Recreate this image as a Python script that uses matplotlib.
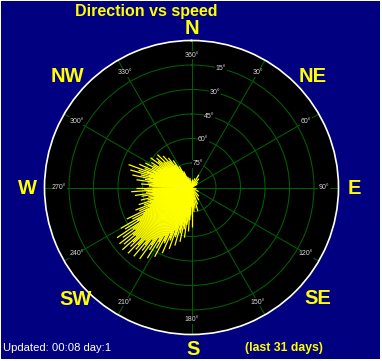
import numpy as np
import matplotlib
matplotlib.use("Agg")
import matplotlib.pyplot as plt
from matplotlib.patches import Rectangle

# wind direction (degrees from north) and speed for each reading
directions = [
    0, 10, 20, 30, 40, 50, 60, 90, 120, 140, 150, 160, 165,
    170, 172, 174, 176, 178, 180, 181, 182, 183, 184, 185, 186, 187, 188, 189,
    190, 191, 192, 193, 194, 195, 196, 197, 198, 199,
    200, 201, 202, 203, 204, 205, 206, 207, 208, 209,
    210, 211, 212, 213, 214, 215, 216, 217, 218, 219,
    220, 221, 222, 223, 224, 225, 226, 227, 228, 229,
    230, 231, 232, 233, 234, 235, 236, 237, 238, 239,
    240, 241, 242, 243, 244, 245, 246, 247, 248, 249,
    250, 251, 252, 253, 254, 255, 256, 257, 258, 259,
    260, 261, 262, 263, 264, 265, 266, 267, 268, 269,
    270, 271, 272, 273, 274, 275, 276, 277, 278, 279,
    280, 281, 282, 283, 284, 285, 286, 287, 288, 289,
    290, 291, 292, 293, 294, 295, 296, 297, 298, 299,
    300, 301, 302, 303, 304, 305, 306, 307, 308, 309,
    310, 311, 312, 313, 314, 315, 316, 317, 318, 319,
    320, 321, 322, 323, 324, 325, 326, 327, 328, 329,
    330, 332, 334, 336, 340, 345, 350, 355,
]
speeds = [
    5, 4, 6, 9, 7, 5, 4, 3, 5, 7, 9, 11, 15,
    13, 9, 15, 11, 18, 24, 12, 17, 20, 27, 15, 21, 23, 31, 18,
    26, 24, 34, 22, 29, 27, 37, 24, 32, 31,
    40, 28, 35, 34, 44, 31, 38, 37, 48, 34,
    43, 39, 51, 37, 46, 43, 54, 40, 49, 45,
    55, 43, 51, 48, 56, 44, 52, 49, 57, 45,
    54, 46, 56, 43, 52, 44, 55, 38, 48, 39,
    50, 34, 41, 32, 44, 28, 35, 29, 37, 26,
    31, 27, 34, 24, 28, 26, 32, 23, 27, 24,
    31, 26, 35, 24, 28, 27, 37, 24, 29, 27,
    34, 24, 26, 26, 31, 23, 27, 24, 34, 26,
    29, 27, 37, 24, 32, 27, 39, 26, 34, 29,
    41, 24, 31, 26, 35, 23, 27, 24, 32, 22,
    27, 23, 29, 21, 24, 22, 31, 20, 26, 21,
    28, 18, 23, 20, 29, 17, 22, 18, 26, 16,
    21, 17, 23, 13, 17, 15, 20, 11, 13, 10,
    15, 9, 11, 6, 7, 5, 6, 4,
]

ring_values = [15, 30, 45, 60, 75]
ring_labels = ["75°", "60°", "45°", "30°", "15°"]
spoke_angles = [0, 30, 60, 90, 120, 150, 180, 210, 240, 270, 300, 330]
spoke_labels = ["360°", "30°", "60°", "90°", "120°", "150°",
                "180°", "210°", "240°", "270°", "300°", "330°"]
compass = ["N", "NE", "E", "SE", "S", "SW", "W", "NW"]

navy = "#000080"
yellow = "#ffff00"
grid_green = "#006000"

W, H = 382, 361
fig = plt.figure(figsize=(W / 100, H / 100), dpi=100, facecolor="white")
fig.patches.append(Rectangle((1 / W, 2 / H), 379 / W, 358 / H,
                             transform=fig.transFigure, facecolor=navy,
                             edgecolor="none", zorder=-5))

cx, cy, rad = 191.5, 187.5, 147
ax = fig.add_axes([(cx - rad) / W, (H - cy - rad) / H, 2 * rad / W, 2 * rad / H],
                  projection="polar")
ax.set_zorder(2)
ax.set_facecolor("black")
ax.set_theta_zero_location("N")
ax.set_theta_direction(-1)
ax.set_ylim(0, 90)

ax.set_xticks(np.radians(spoke_angles))
ax.set_xticklabels([])
ax.set_yticks(ring_values)
ax.set_yticklabels([])
ax.grid(True, color=grid_green, linewidth=0.75)
ax.spines["polar"].set_color("white")
ax.spines["polar"].set_linewidth(1.2)
ax.tick_params(length=0)

# readings as spokes from the centre
for d, s in zip(directions, speeds):
    t = np.radians(d)
    ax.plot([t, t], [0, s], color=yellow, linewidth=0.9, solid_capstyle="butt",
            zorder=3)

# ring labels along a line a little east of north
for r, lab in zip(ring_values, ring_labels):
    ax.text(np.radians(14), r, lab, color="#d8d8d8", fontsize=5,
            family="Liberation Sans", ha="center", va="center", zorder=4,
            bbox=dict(facecolor="black", edgecolor="none", pad=0.3))

for a, lab in zip(spoke_angles, spoke_labels):
    ax.text(np.radians(a), 81, lab, color="#d8d8d8", fontsize=5,
            family="Liberation Sans", ha="center", va="center", zorder=4,
            bbox=dict(facecolor="black", edgecolor="none", pad=0.3))

# compass points outside the circle (baseline positions in pixels)
comp_pos = {"N": (192, 34), "NE": (313, 82), "E": (354, 194), "SE": (318, 304),
            "S": (193, 355), "SW": (76, 305), "W": (27, 194), "NW": (67, 82)}
for c in compass:
    x, y = comp_pos[c]
    fig.text(x / W, 1 - y / H, c, color=yellow, fontsize=14.5,
             family="Liberation Sans", weight="bold", ha="center", va="baseline")

fig.text(146 / W, 1 - 16 / H, "Direction vs speed", color=yellow, fontsize=11.5,
         family="Liberation Sans", weight="bold", ha="center", va="baseline")
fig.text(3 / W, 1 - 348 / H, "Updated: 00:08 day:1", color="white", fontsize=8.1,
         family="Liberation Sans", ha="left", va="center")
fig.text(283.5 / W, 1 - 348 / H, "(last 31 days)", color=yellow, fontsize=8.8,
         family="Liberation Sans", weight="bold", ha="center", va="center")

fig.savefig("out.png", dpi=100, facecolor=fig.get_facecolor())
